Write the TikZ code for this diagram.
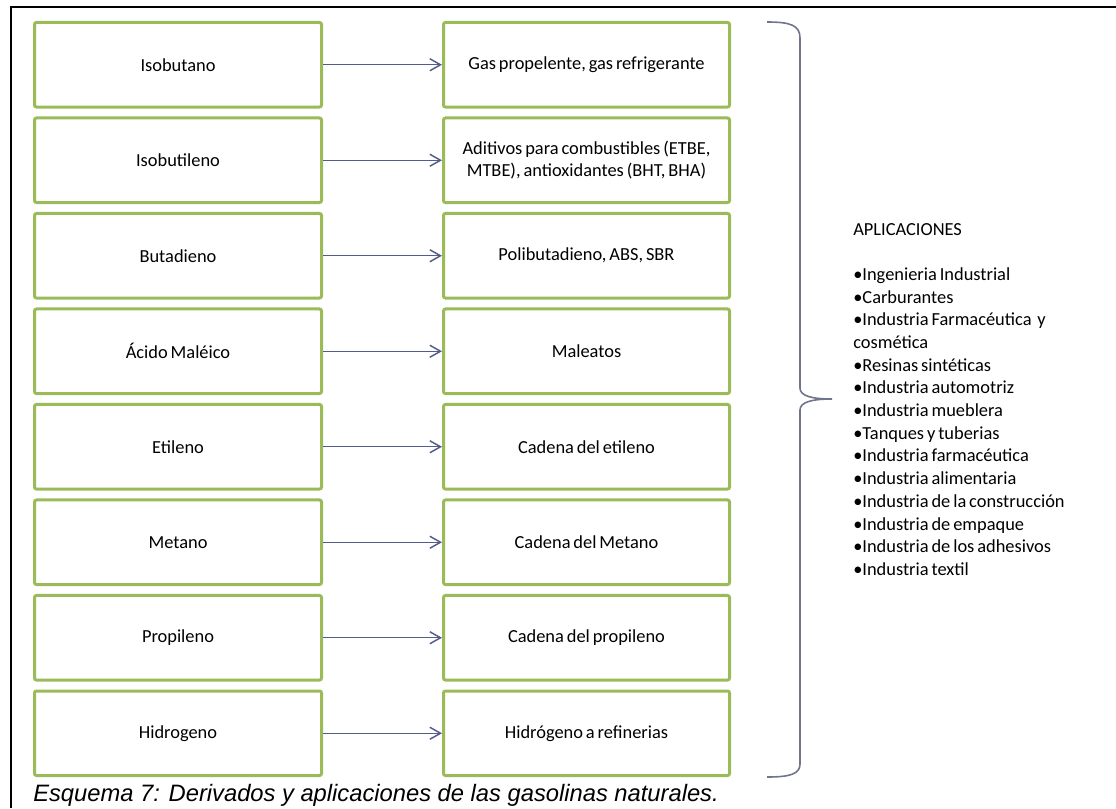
\documentclass[tikz,border=0pt]{standalone}
\usepackage{fontspec}
\setmainfont{Carlito}[WordSpace=0.7]
\newfontfamily\captionfont{Liberation Sans}
\usetikzlibrary{arrows.meta}

\definecolor{boxgreen}{RGB}{155,187,89}
\definecolor{linkblue}{RGB}{84,92,140}
\definecolor{bracegrey}{RGB}{112,116,140}

\tikzset{
  itembox/.style={draw=boxgreen, line width=2.25pt, rounded corners=1.5pt,
    fill=white, minimum height=63.4pt, text width=200pt, align=flush center,
    inner sep=0pt, font=\fontsize{13.8}{16.5}\selectfont},
  leftbox/.style={itembox, minimum width=215.25pt},
  rightbox/.style={itembox, minimum width=214.5pt},
  link/.style={draw=linkblue, line width=1.1pt,
    -{Straight Barb[length=8pt,width=9pt,line width=1.1pt]}},
  brace/.style={draw=bracegrey, line width=1.2pt},
  frame/.style={draw=black, line width=1.6pt}
}

\begin{document}
\begin{tikzpicture}[x=0.75pt, y=-0.75pt]
\useasboundingbox (0,0) rectangle (1116,808);

% page frame (top and left edges)
\draw[frame] (11,808) -- (11,7) -- (1116,7);

% derivatives (left) and their uses (right)
\node[leftbox]  (l1) at (178,64.75)  {Isobutano};
\node[rightbox] (r1) at (586.5,64.75) {Gas propelente, gas refrigerante};
\node[leftbox]  (l2) at (178,160.25) {Isobutileno};
\node[rightbox] (r2) at (586.5,160.25) {Aditivos para combustibles (ETBE,\\ MTBE), antioxidantes (BHT, BHA)};
\node[leftbox]  (l3) at (178,255.75) {Butadieno};
\node[rightbox] (r3) at (586.5,255.75) {Polibutadieno, ABS, SBR};
\node[leftbox]  (l4) at (178,351.25) {Ácido Maléico};
\node[rightbox] (r4) at (586.5,351.25) {Maleatos};
\node[leftbox]  (l5) at (178,446.75) {Etileno};
\node[rightbox] (r5) at (586.5,446.75) {Cadena del etileno};
\node[leftbox]  (l6) at (178,542.25) {Metano};
\node[rightbox] (r6) at (586.5,542.25) {Cadena del Metano};
\node[leftbox]  (l7) at (178,637.75) {Propileno};
\node[rightbox] (r7) at (586.5,637.75) {Cadena del propileno};
\node[leftbox]  (l8) at (178,733.25) {Hidrogeno};
\node[rightbox] (r8) at (586.5,733.25) {Hidrógeno a refinerias};

\foreach \i in {1,...,8} \draw[link] (l\i) -- (r\i);

% right curly brace grouping all rows
\coordinate (bt) at (767,22);
\coordinate (bm) at (832,399);
\coordinate (bb) at (767,777);
\draw[brace] (bt) .. controls (790,22) and (800,25) .. (800,38)
  -- (800,388) .. controls (800,396) and (812,399) .. (bm)
  .. controls (812,399) and (800,402) .. (800,410)
  -- (800,764) .. controls (800,774) and (790,777) .. (bb);

% list of applications (first baseline at the anchor)
\node[anchor=base west, inner sep=0pt,
      font=\fontsize{13.8}{17.02}\selectfont] (apps) at (853,235)
  {\begin{tabular}[t]{@{}l@{}}
   APLICACIONES\\
   \\
   •Ingenieria Industrial\\
   •Carburantes\\
   •Industria Farmacéutica~ y\\
   cosmética\\
   •Resinas sintéticas\\
   •Industria automotriz\\
   •Industria mueblera\\
   •Tanques y tuberias\\
   •Industria farmacéutica\\
   •Industria alimentaria\\
   •Industria de la construcción\\
   •Industria de empaque\\
   •Industria de los adhesivos\\
   •Industria textil
   \end{tabular}};

% caption
\node[anchor=base west, inner sep=0pt,
      font=\captionfont\itshape\fontsize{17.8}{20}\selectfont] (cap) at (33,801)
  {Esquema 7: Derivados y aplicaciones de las gasolinas naturales.};
\end{tikzpicture}
\end{document}
